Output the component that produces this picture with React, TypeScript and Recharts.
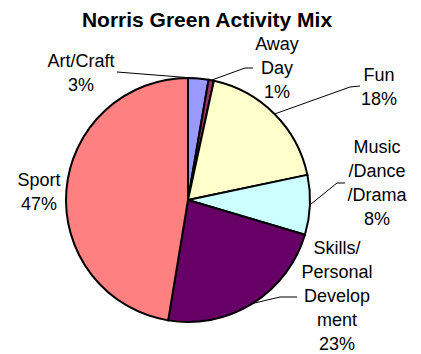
import React from "react";
import { PieChart, Pie, Cell } from "recharts";

const CATEGORIES = ["Art/Craft", "Away Day", "Fun", "Music/Dance/Drama", "Skills/Personal Development", "Sport"];
// how the names wrap in the label boxes
const LABEL_LINES = [
  ["Art/Craft"],
  ["Away", "Day"],
  ["Fun"],
  ["Music", "/Dance", "/Drama"],
  ["Skills/", "Personal", "Develop", "ment"],
  ["Sport"],
];
const SHARES = [2.7, 0.7, 18.3, 7.9, 23.0, 47.4];

const COLORS = ["#9999FF", "#993366", "#FFFFCC", "#CCFFFF", "#660066", "#FF8080"];

const FONT = '"Liberation Sans", Arial, sans-serif';
const LINE_H = 24;

// label box placement relative to pie centre: text centre x, first baseline y,
// and leader line start / elbow (null = no leader)
const LABEL_LAYOUT = [
  { dx: -107, dy: -133, line: [[-71, -128], [-71, -128]] },
  { dx: 89, dy: -150, line: [[65, -132], [57, -132]] },
  { dx: 191, dy: -119, line: [[172, -114], [162, -113]] },
  { dx: 189, dy: -47, line: [[157, -17], [149, -17]] },
  { dx: 149, dy: 54, line: [[109, 97], [92, 97]] },
  { dx: -149, dy: -14, line: null },
];

const data = CATEGORIES.map((name, i) => ({ name, value: SHARES[i] }));

const RAD = Math.PI / 180;

const renderLabel = (props: any) => {
  const { cx, cy, midAngle, outerRadius, index, percent } = props;
  const lay = LABEL_LAYOUT[index];
  const lines = [...LABEL_LINES[index], `${Math.round(percent * 100)}%`];
  const ex = cx + outerRadius * Math.cos(-midAngle * RAD);
  const ey = cy + outerRadius * Math.sin(-midAngle * RAD);
  return (
    <g key={`lbl-${index}`}>
      {lay.line && (
        <polyline
          points={`${cx + lay.line[0][0]},${cy + lay.line[0][1]} ${cx + lay.line[1][0]},${cy + lay.line[1][1]} ${ex},${ey}`}
          fill="none"
          stroke="#000"
          strokeWidth={1}
        />
      )}
      <text x={cx + lay.dx} y={cy + lay.dy} textAnchor="middle" fontFamily={FONT} fontSize={18} fill="#000">
        {lines.map((t, i) => (
          <tspan key={i} x={cx + lay.dx} dy={i === 0 ? 0 : LINE_H}>
            {t}
          </tspan>
        ))}
      </text>
    </g>
  );
};

export default function App() {
  return (
    <div style={{ position: "absolute", left: 0, top: 0, width: 421, height: 354, background: "#fff" }}>
      <PieChart width={421} height={354} margin={{ top: 0, right: 0, bottom: 0, left: 0 }}>
        <text x={207} y={27} textAnchor="middle" fontFamily={FONT} fontSize={21} fontWeight="bold" fill="#000">
          Norris Green Activity Mix
        </text>
        <Pie
          data={data}
          dataKey="value"
          nameKey="name"
          cx={188}
          cy={200}
          outerRadius={122}
          startAngle={90}
          endAngle={-270}
          label={renderLabel}
          labelLine={false}
          isAnimationActive={false}
        >
          {data.map((_d, i) => (
            <Cell key={`cell-${i}`} fill={COLORS[i]} stroke="#000" strokeWidth={2} />
          ))}
        </Pie>
      </PieChart>
    </div>
  );
}
